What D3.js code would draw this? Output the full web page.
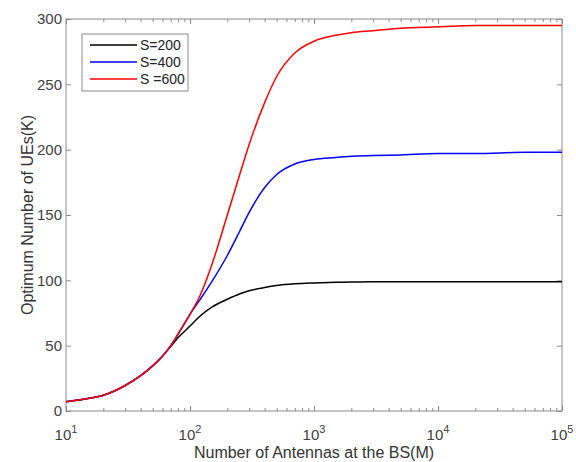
<!DOCTYPE html>
<html>
<head>
<meta charset="utf-8">
<script src="https://cdn.jsdelivr.net/npm/d3@7"></script>
<style>
  body { margin: 0; background: #fff; }
  text { font-family: "Liberation Sans", Arial, sans-serif; }
</style>
</head>
<body>
<div id="chart"></div>
<script>
// data
var antennas = [10, 15, 20, 30, 40, 50, 60, 70, 80, 100, 120, 150, 200, 250, 300, 400, 500, 700,
                1000, 1500, 2000, 3000, 5000, 10000, 20000, 50000, 100000];
var ues200 = [7, 9.5, 12, 19.5, 27, 34.5, 42, 49.5, 56, 65, 72.5, 79.5, 85.5, 89.5, 92, 94.5, 96, 97.3,
              98, 98.5, 98.8, 99, 99, 99, 99, 99, 99];
var ues400 = [7, 9.5, 12, 19.5, 27, 34.5, 42, 50, 58.5, 74, 85, 99, 119, 137, 152, 171, 181, 189,
              192.5, 194, 195, 195.5, 196, 197, 197, 198, 198];
var ues600 = [7, 9.5, 12, 19.5, 27, 34.5, 42, 50, 59, 74, 88, 112, 150, 180, 204, 236, 256, 274,
              283, 287.5, 289.5, 291, 293, 294, 295, 295, 295];
var seriesNames = ["S=200", "S=400", "S =600"];
var seriesColors = ["#000000", "#0000ff", "#ff0000"];
var xTicks = [10, 100, 1000, 10000, 100000];
var xExp = ["1", "2", "3", "4", "5"];
var yTicks = [0, 50, 100, 150, 200, 250, 300];

var series = [ues200, ues400, ues600];

// set the dimensions and margins of the graph
var margin = {top: 19, right: 14, bottom: 51, left: 66},
    width = 576 - margin.left - margin.right,
    height = 462 - margin.top - margin.bottom;

var svg = d3.select("#chart")
    .append("svg")
    .attr("width", width + margin.left + margin.right)
    .attr("height", height + margin.top + margin.bottom)
    .append("g")
    .attr("transform", `translate(${margin.left}, ${margin.top})`);

var x = d3.scaleLog().domain([10, 100000]).range([0, width]);
var y = d3.scaleLinear().domain([0, 300]).range([height, 0]);

// minor ticks 2..9 in every decade
var minor = [];
for (var p = 1; p < 5; p++) {
    for (var k = 2; k <= 9; k++) minor.push(k * Math.pow(10, p));
}

var axisColor = "#8a8a8a";
function styleAxis(g) {
    g.select(".domain").remove();
    g.selectAll(".tick line").attr("stroke", axisColor);
}

// x ticks bottom + top (inward)
svg.append("g").attr("transform", "translate(0," + height + ")")
    .call(d3.axisBottom(x).tickValues(xTicks).tickSize(-5).tickFormat(""))
    .call(styleAxis);
svg.append("g").attr("transform", "translate(0," + height + ")")
    .call(d3.axisBottom(x).tickValues(minor).tickSize(-3).tickFormat(""))
    .call(styleAxis);
svg.append("g")
    .call(d3.axisTop(x).tickValues(xTicks).tickSize(-5).tickFormat(""))
    .call(styleAxis);
svg.append("g")
    .call(d3.axisTop(x).tickValues(minor).tickSize(-3).tickFormat(""))
    .call(styleAxis);

// y ticks left + right (inward)
var yAxisL = svg.append("g")
    .call(d3.axisLeft(y).tickValues(yTicks).tickSize(-5).tickPadding(4));
yAxisL.select(".domain").remove();
yAxisL.selectAll(".tick line").attr("stroke", axisColor);
yAxisL.selectAll(".tick text")
    .attr("fill", "#404040")
    .style("font-size", "15px")
    .style("font-family", "'Liberation Sans', Arial, sans-serif");
svg.append("g").attr("transform", "translate(" + width + ",0)")
    .call(d3.axisRight(y).tickValues(yTicks).tickSize(-5).tickFormat(""))
    .call(styleAxis);

// x tick labels as 10 with superscript
var xl = svg.append("g").selectAll("text")
    .data(xTicks)
    .enter()
    .append("text")
    .attr("x", d => x(d))
    .attr("y", height + 29)
    .attr("text-anchor", "middle")
    .attr("fill", "#404040")
    .style("font-size", "15px");
xl.append("tspan").text("10");
xl.append("tspan")
    .text((d, i) => xExp[i])
    .attr("dy", -7)
    .style("font-size", "11px");

// frame
svg.append("rect")
    .attr("width", width)
    .attr("height", height)
    .attr("fill", "none")
    .attr("stroke", axisColor)
    .attr("stroke-width", 1);

// lines
var line = d3.line()
    .x((d, i) => x(antennas[i]))
    .y(d => y(d))
    .curve(d3.curveMonotoneX);

svg.selectAll("path.series")
    .data(series)
    .enter()
    .append("path")
    .attr("class", "series")
    .attr("d", d => line(d))
    .attr("fill", "none")
    .attr("stroke", (d, i) => seriesColors[i])
    .attr("stroke-width", 1.5);

// axis labels
svg.append("text")
    .attr("text-anchor", "middle")
    .attr("x", width / 2)
    .attr("y", height + 47)
    .attr("fill", "#333")
    .style("font-size", "16px")
    .text("Number of Antennas at the BS(M)");

svg.append("text")
    .attr("text-anchor", "middle")
    .attr("transform", "rotate(-90)")
    .attr("x", -height / 2)
    .attr("y", -33)
    .attr("fill", "#333")
    .style("font-size", "16px")
    .text("Optimum Number of UEs(K)");

// legend
var legend = svg.append("g").attr("transform", "translate(16,15)");
legend.append("rect")
    .attr("width", 106)
    .attr("height", 57)
    .attr("fill", "#fff")
    .attr("stroke", axisColor);
var items = legend.selectAll("g.item")
    .data(seriesNames)
    .enter()
    .append("g")
    .attr("transform", (d, i) => `translate(0, ${11 + i * 17})`);
items.append("line")
    .attr("x1", 8).attr("x2", 55)
    .attr("y1", 0).attr("y2", 0)
    .attr("stroke", (d, i) => seriesColors[i])
    .attr("stroke-width", 1.5);
items.append("text")
    .attr("x", 58)
    .attr("dy", "0.35em")
    .attr("fill", "#222")
    .style("font-size", "14px")
    .text(d => d);
</script>
</body>
</html>
